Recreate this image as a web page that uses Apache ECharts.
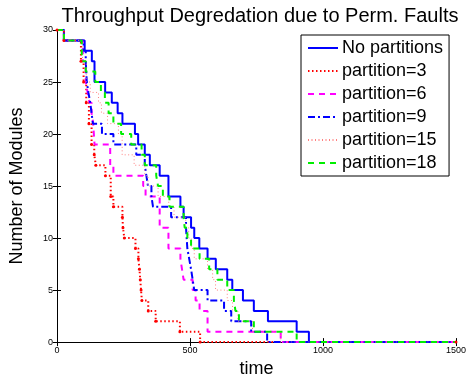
<!DOCTYPE html>
<html>
<head>
<meta charset="utf-8">
<script src="https://cdn.jsdelivr.net/npm/echarts@6/dist/echarts.min.js"></script>
<style>
  html, body { margin: 0; padding: 0; background: #fff; }
  #container { width: 476px; height: 383px; }
</style>
</head>
<body>
<div id="container"></div>
<script>
// [time, modules] pairs, value holds from that time until the next one
const noPartitions = [[0,30],[26,29],[104,28],[131,27],[141,25],[181,24],[206,23],[228,22],[246,21],[293,20],[305,19],[330,18],[349,17],[386,16],[419,14],[464,13],[476,12],[504,11],[516,10],[535,9],[566,8],[597,7],[640,6],[659,5],[699,4],[740,3],[793,2],[901,1],[947,0],[1500,0]];
const partition3 = [[0,30],[26,29],[90,27],[100,25],[110,23],[120,21],[130,19],[140,18],[146,17],[182,16],[202,14],[212,13],[246,12],[248,11],[253,10],[295,9],[306,8],[310,7],[313,6],[316,5],[319,4],[343,3],[371,2],[462,1],[538,0],[1500,0]];
const partition6 = [[0,30],[26,29],[97,27],[108,25],[115,24],[122,23],[130,22],[136,21],[141,19],[200,17],[212,16],[324,15],[333,14],[386,11],[419,9],[464,8],[470,7],[476,6],[510,5],[521,4],[536,3],[566,1],[841,0],[1500,0]];
const partition9 = [[0,30],[26,29],[100,28],[108,27],[112,25],[118,24],[125,23],[130,22],[135,21],[169,20],[212,19],[298,18],[330,17],[336,16],[342,15],[355,14],[361,13],[429,12],[485,11],[490,9],[497,8],[504,7],[510,6],[516,5],[566,4],[628,3],[655,2],[730,1],[790,0],[1500,0]];
const partition15 = [[0,30],[26,29],[96,27],[110,25],[125,24],[156,23],[167,22],[190,21],[231,20],[245,18],[290,17],[330,16],[342,15],[380,14],[420,13],[440,12],[484,11],[495,10],[505,9],[516,8],[566,7],[585,6],[596,5],[640,4],[660,3],[680,2],[735,1],[841,0],[1500,0]];
const partition18 = [[0,30],[26,29],[93,27],[108,26],[144,25],[165,24],[180,23],[194,22],[212,21],[241,20],[279,19],[318,18],[330,17],[373,16],[380,15],[398,14],[423,13],[476,12],[480,11],[490,10],[504,9],[536,8],[572,7],[603,6],[640,5],[665,4],[671,3],[684,2],[740,1],[901,0],[1500,0]];

const xTicks = [0, 500, 1000, 1500];
const yTicks = [0, 5, 10, 15, 20, 25, 30];

const font = "'Liberation Sans', Arial, Helvetica, sans-serif";

let myChart = echarts.init(document.getElementById('container'));

function stepLine(name, data, color, width, type, extra) {
  return Object.assign({
    name: name,
    type: 'line',
    step: 'end',
    data: data,
    showSymbol: false,
    symbol: 'none',
    animation: false,
    lineStyle: { color: color, width: width, type: type },
    itemStyle: { color: color }
  }, extra || {});
}

myChart.setOption({
  animation: false,
  textStyle: { fontFamily: font },
  title: {
    text: 'Throughput Degredation due to Perm. Faults',
    left: 255,
    textAlign: 'center',
    top: 1,
    textStyle: { fontFamily: font, fontSize: 20, fontWeight: 'normal', color: '#000' }
  },
  grid: { left: 53, top: 30, right: 20, bottom: 35 },
  legend: {
    left: 301,
    top: 35,
    orient: 'vertical',
    backgroundColor: '#fff',
    borderColor: '#000',
    borderWidth: 1,
    padding: [4, 6, 4, 6],
    itemWidth: 30,
    itemHeight: 14,
    itemGap: 5,
    itemStyle: { opacity: 0 },
    textStyle: { fontFamily: font, fontSize: 18, lineHeight: 18, color: '#000', padding: [0, 0, 0, -1] }
  },
  xAxis: [
    {
      type: 'value', min: 0, max: 1500, interval: 500,
      name: 'time', nameLocation: 'middle', nameGap: 15,
      nameTextStyle: { fontFamily: font, fontSize: 18, color: '#000' },
      axisLine: { lineStyle: { color: '#000', width: 1 } },
      axisTick: { inside: true, length: 4, lineStyle: { color: '#000' } },
      axisLabel: { fontFamily: font, fontSize: 9, color: '#000', margin: 4,
        formatter: function (v) { return xTicks.indexOf(v) >= 0 ? String(v) : ''; } },
      splitLine: { show: false }
    },
    {
      type: 'value', min: 0, max: 1500, interval: 500, position: 'top',
      axisLine: { lineStyle: { color: '#000', width: 1 } },
      axisTick: { inside: true, length: 4, lineStyle: { color: '#000' } },
      axisLabel: { show: false },
      splitLine: { show: false }
    }
  ],
  yAxis: [
    {
      type: 'value', min: 0, max: 30, interval: 5,
      name: 'Number of Modules', nameLocation: 'middle', nameGap: 31, nameRotate: 90,
      nameTextStyle: { fontFamily: font, fontSize: 18, color: '#000' },
      axisLine: { show: true, lineStyle: { color: '#000', width: 1 } },
      axisTick: { show: true, inside: true, length: 4, lineStyle: { color: '#000' } },
      axisLabel: { fontFamily: font, fontSize: 9, color: '#000', margin: 4,
        formatter: function (v) { return yTicks.indexOf(v) >= 0 ? String(v) : ''; } },
      splitLine: { show: false }
    },
    {
      type: 'value', min: 0, max: 30, interval: 5, position: 'right',
      axisLine: { show: true, lineStyle: { color: '#000', width: 1 } },
      axisTick: { show: true, inside: true, length: 4, lineStyle: { color: '#000' } },
      axisLabel: { show: false },
      splitLine: { show: false }
    }
  ],
  series: [
    stepLine('No partitions', noPartitions, '#0000ff', 2, 'solid'),
    stepLine('partition=3', partition3, '#ff0000', 2, [1.5, 2.5],
      { symbol: 'circle', symbolSize: 3, showSymbol: true }),
    stepLine('partition=6', partition6, '#ff00ff', 2, [6, 5]),
    stepLine('partition=9', partition9, '#0000ff', 2, [7, 3, 2, 3]),
    stepLine('partition=15', partition15, '#ff8080', 1, [1, 2.5]),
    stepLine('partition=18', partition18, '#00ee00', 2, [6, 5])
  ]
});
</script>
</body>
</html>
